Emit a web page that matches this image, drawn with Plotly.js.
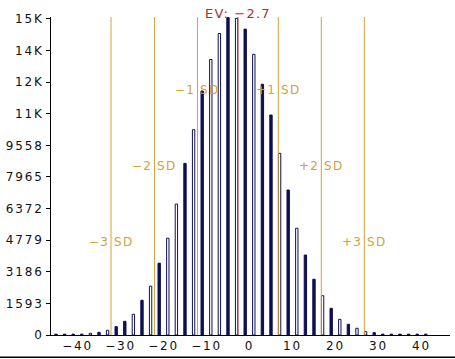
<!DOCTYPE html>
<html>
<head>
<meta charset="utf-8">
<script src="https://cdn.plot.ly/plotly-3.0.1.min.js"></script>
<style>
  html, body { margin: 0; padding: 0; background: #fff; }
  #chart { width: 455px; height: 359px; }
  .xtick text, .ytick text { letter-spacing: 1.8px; }
  .annotation-text { letter-spacing: 1.2px; }
</style>
</head>
<body>
<div id="chart"></div>
<script>
// ---- data ----
const bins = [-45,-43,-41,-39,-37,-35,-33,-31,-29,-27,-25,-23,-21,-19,-17,-15,-13,-11,-9,-7,-5,-3,-1,
              1,3,5,7,9,11,13,15,17,19,21,23,25,27,29,31,33,35,37,39,41];
const counts = [45,45,45,45,85,135,235,420,690,1045,1750,2460,3620,4880,6600,8650,10350,12300,13890,15200,16000,15960,15420,
                14150,12640,11090,9160,7310,5380,4030,2810,1980,1345,790,540,340,170,120,45,45,45,45,45,45];
// 1 = filled navy bar, 0 = white (outlined) bar
const filled = [1,1,1,1,0,1,0,1,1,0,1,0,1,0,0,1,0,1,0,0,1,0,1,
                0,1,1,0,1,0,1,1,0,1,0,1,0,0,1,1,1,1,1,1,1];
const yTickVals = [0,1593,3186,4779,6372,7965,9558,11151,12744,14337,15930];
const yTickText = ['0','1593','3186','4779','6372','7965','9558','11K','12K','14K','15K'];
const xTickVals = [-40,-30,-20,-10,0,10,20,30,40];
const expectedValue = -2.7;
const evLabel = 'EV: \u22122.7';
const sdLinePositions = [-32.2,-22.1,-12.1,6.7,16.7,26.7];
const sdLabels = ['\u22123 SD','\u22122 SD','\u22121 SD','+1 SD','+2 SD','+3 SD'];

// ---- styling ----
const NAVY = '#0f0f52';
const GOLD = '#d2a23a';
const EVRED = '#a83030';
const FONT = 'DejaVu Sans, Verdana, sans-serif';

const barTrace = {
  type: 'bar',
  x: bins,
  y: counts,
  width: 0.55,
  marker: {
    color: filled.map(f => f ? NAVY : '#ffffff'),
    line: { color: NAVY, width: 1 }
  },
  hoverinfo: 'x+y'
};

// SD label heights (paper coords), per label
const sdLabelY = [0.293, 0.531, 0.770, 0.770, 0.532, 0.293];

const shapes = sdLinePositions.map(v => ({
  type: 'line', xref: 'x', yref: 'paper', x0: v, x1: v, y0: 0, y1: 1,
  line: { color: GOLD, width: 1 }
}));
shapes.push({
  type: 'line', xref: 'x', yref: 'paper', x0: expectedValue, x1: expectedValue, y0: 0, y1: 1,
  line: { color: '#b84a40', width: 1 }
});
shapes.push({
  type: 'line', xref: 'paper', yref: 'paper', x0: -0.13, x1: 1.02, y0: -0.07, y1: -0.07,
  line: { color: '#000', width: 1.5 }
});

const annotations = sdLabels.map((t, i) => ({
  x: sdLinePositions[i], xref: 'x', y: sdLabelY[i], yref: 'paper',
  text: t, showarrow: false, xanchor: 'center', yanchor: 'middle',
  font: { family: FONT, size: 12, color: GOLD }
}));
annotations.push({
  x: expectedValue, xref: 'x', y: 1.01, yref: 'paper',
  text: evLabel, showarrow: false, xanchor: 'center', yanchor: 'middle',
  font: { family: FONT, size: 13, color: EVRED }
});

const layout = {
  width: 455, height: 359,
  margin: { l: 51, r: 5, t: 17, b: 24, pad: 0 },
  paper_bgcolor: '#ffffff',
  plot_bgcolor: '#ffffff',
  showlegend: false,
  bargap: 0,
  font: { family: FONT, size: 12, color: '#111' },
  xaxis: {
    range: [-46.16, 46.63],
    tickvals: xTickVals,
    ticks: '',
    showgrid: false,
    zeroline: false,
    showline: true,
    linecolor: '#000',
    linewidth: 1,
    tickfont: { family: FONT, size: 12, color: '#111' }
  },
  yaxis: {
    range: [0, 16030],
    tickvals: yTickVals,
    ticktext: yTickText,
    ticks: 'outside',
    ticklen: 4,
    tickcolor: '#000',
    showgrid: false,
    zeroline: false,
    showline: true,
    linecolor: '#000',
    linewidth: 1,
    tickfont: { family: FONT, size: 12, color: '#111' }
  },
  shapes: shapes,
  annotations: annotations
};

Plotly.newPlot('chart', [barTrace], layout, { displayModeBar: false, staticPlot: true });
</script>
</body>
</html>
